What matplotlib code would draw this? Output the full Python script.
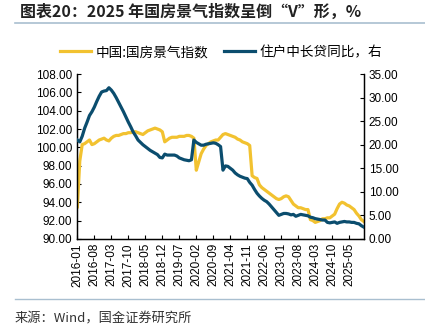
import numpy as np
import matplotlib
matplotlib.use("Agg")
import matplotlib.pyplot as plt
from matplotlib.lines import Line2D

plt.rcParams['font.family'] = ['Liberation Sans', 'Noto Sans CJK SC', 'DejaVu Sans']

# monthly, 2016-01 .. 2025-11
months = [f"{2016 + i // 12}-{i % 12 + 1:02d}" for i in range(119)]

# 中国:国房景气指数 (left axis)
climate = [93.5, 98.5, 100.3, 100.4, 100.6, 100.8, 100.3, 100.4, 100.6, 100.8,
           100.9, 101.0, 100.8, 100.7, 101.0, 101.2, 101.3, 101.3, 101.4, 101.5,
           101.5, 101.6, 101.6, 101.7, 101.7, 101.6, 101.5, 101.4, 101.6, 101.8,
           101.9, 102.0, 102.1, 102.0, 101.9, 101.7, 100.6, 100.8, 101.0, 101.1,
           101.1, 101.1, 101.2, 101.2, 101.2, 101.3, 101.3, 101.2, 101.0, 97.5,
           98.4, 99.3, 99.8, 100.2, 100.4, 100.6, 100.7, 100.8, 100.8, 101.1,
           101.4, 101.5, 101.4, 101.3, 101.2, 101.1, 100.9, 100.8, 100.6, 100.5,
           100.4, 100.2, 96.9, 96.7, 96.6, 95.9, 95.6, 95.4, 95.2, 95.0,
           94.8, 94.6, 94.4, 94.3, 94.4, 94.6, 94.7, 94.6, 94.2, 93.8,
           93.6, 93.4, 93.4, 93.3, 93.2, 93.2, 92.1, 92.0, 91.8, 91.9,
           92.0, 92.2, 92.2, 92.3, 92.3, 92.5, 92.7, 93.3, 93.8, 94.0,
           93.9, 93.7, 93.6, 93.4, 93.2, 92.8, 92.5, 92.1, 91.9]

# 住户中长贷同比 (right axis)
loans = [21.0, 20.6, 21.8, 23.5, 24.8, 26.2, 27.0, 28.0, 29.2, 30.3,
         31.2, 31.4, 31.5, 32.1, 31.6, 30.9, 30.0, 29.0, 28.0, 27.0,
         25.9, 24.8, 23.8, 22.7, 21.9, 21.0, 20.5, 20.0, 19.6, 19.2,
         18.8, 18.5, 18.2, 17.9, 17.3, 17.2, 18.0, 17.8, 17.8, 17.8,
         17.8, 17.6, 17.2, 17.0, 16.8, 16.7, 16.6, 16.8, 21.0, 20.5,
         20.2, 19.9, 19.9, 20.1, 20.2, 20.3, 20.4, 20.3, 20.0, 19.6,
         14.6, 15.5, 15.4, 15.0, 14.6, 14.0, 13.6, 13.3, 13.1, 12.9,
         12.8, 12.0, 11.4, 10.5, 9.7, 9.1, 8.6, 8.2, 7.9, 7.4,
         6.8, 6.2, 5.6, 5.0, 5.2, 5.4, 5.4, 5.3, 5.1, 5.2,
         4.8, 5.0, 5.2, 5.1, 5.0, 4.9, 4.6, 4.5, 4.3, 4.2,
         4.1, 4.0, 4.0, 3.5, 3.4, 3.5, 3.6, 3.3, 3.5, 3.6,
         3.7, 3.6, 3.6, 3.5, 3.5, 3.3, 3.2, 2.8, 2.5]

yellow = '#F2C230'
blue = '#0B4D6E'
cjk = ['Noto Sans CJK SC', 'DejaVu Sans']

fig = plt.figure(figsize=(4.25, 3.25), dpi=100)
ax = fig.add_axes([0.182, 0.265, 0.674, 0.507])
ax2 = ax.twinx()

x = np.arange(len(months))
ax.plot(x, climate, color=yellow, lw=2.3, label='中国:国房景气指数', zorder=2)
ax2.plot(x, loans, color=blue, lw=2.3, label='住户中长贷同比，右', zorder=3)

ax.set_xlim(0, 118)
ax.set_ylim(90, 108)
ax.set_yticks(np.arange(90, 108.1, 2))
ax.set_yticklabels([f"{v:.2f}" for v in np.arange(90, 108.1, 2)])
ax2.set_ylim(0, 35)
ax2.set_yticks(np.arange(0, 35.1, 5))
ax2.set_yticklabels([f"{v:.2f}" for v in np.arange(0, 35.1, 5)])

ticks = list(range(0, 113, 7))
ax.set_xticks(ticks)
ax.set_xticklabels([months[i] for i in ticks], rotation=90)

for a in (ax, ax2):
    a.spines['top'].set_visible(False)
    a.tick_params(direction='in', length=3, width=0.8, labelsize=8.5, colors='black')
    for s in a.spines.values():
        s.set_linewidth(0.9)
ax.tick_params(axis='x', pad=3)

h1, l1 = ax.get_legend_handles_labels()
h2, l2 = ax2.get_legend_handles_labels()
fig.legend(h1 + h2, l1 + l2, loc='center', bbox_to_anchor=(0.52, 0.84), ncol=2,
           frameon=False, prop={'family': cjk, 'size': 9.8}, handlelength=2.3,
           columnspacing=1.1, handletextpad=0.35)

fig.text(0.047, 0.963, '图表20：2025 年国房景气指数呈倒“V”形，%', family=cjk,
         fontsize=11.5, fontweight='bold', fontstyle='italic', color='#222222',
         va='center', ha='left')
fig.add_artist(Line2D([0.035, 1.0], [0.929, 0.929], color='#A9BFD0', lw=1.2))
fig.add_artist(Line2D([0.035, 1.0], [0.08, 0.08], color='#A9BFD0', lw=1.0))
fig.text(0.035, 0.02, '来源：Wind，国金证券研究所', family=cjk, fontsize=9.5,
         color='#333333', va='center', ha='left')

fig.savefig('out.png', dpi=100)
